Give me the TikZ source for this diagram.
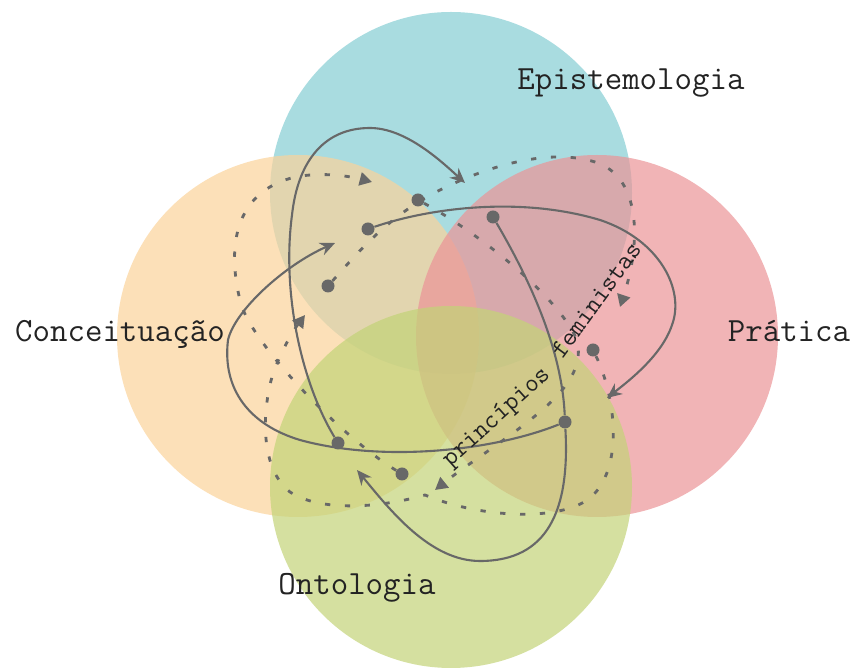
\documentclass[tikz,border=0pt]{standalone}
\usepackage{fontspec}
\usetikzlibrary{arrows.meta}
\definecolor{epi}{RGB}{132,205,211}
\definecolor{con}{RGB}{251,211,154}
\definecolor{pra}{RGB}{235,148,151}
\definecolor{ont}{RGB}{195,211,119}
\definecolor{ink}{RGB}{104,104,104}
\definecolor{txt}{RGB}{35,35,35}
\pgfdeclarelayer{back}
\pgfsetlayers{back,main}
\tikzset{
  area/.style={fill opacity=.7},
  dt/.style={circle,fill=ink,minimum size=7.4pt,inner sep=0pt},
  sl/.style={draw=ink,line width=1.2pt},
  slar/.style={sl,-{Stealth[length=8.5pt,width=7.5pt]}},
  dl/.style={draw=ink,line width=1.6pt,dash pattern=on 3pt off 8.3pt},
  dlar/.style={dl,-{Triangle[length=7pt,width=7.5pt]}},
  lb/.style={font=\fontsize{19.3}{22}\selectfont\ttfamily,text=txt,anchor=base},
  mid/.style={font=\fontsize{15}{18}\selectfont\ttfamily,text=txt,inner sep=0pt},
}

\begin{document}
\begin{tikzpicture}[x=0.02cm,y=-0.02cm]
\useasboundingbox (0,0) rectangle (853,668);
% the four fields
\begin{pgfonlayer}{back}
\fill[epi,area] (451,193) circle[radius=181];
\fill[con,area] (298,336) circle[radius=181];
\fill[pra,area] (597,336) circle[radius=181];
\fill[ont,area] (451,487) circle[radius=181];
\end{pgfonlayer}
\node[lb] (epis) at (631,90) {Epistemologia};
\node[lb] (conc) at (120,342) {Conceituação};
\node[lb] (prat) at (789,342) {Prática};
\node[lb] (onto) at (357,595) {Ontologia};
% dots of the solid loops (s) and of the dashed loops (d)
\node[dt] (s1) at (338,443) {}; \node[dt] (s2) at (368,229) {};
\node[dt] (s3) at (493,217) {}; \node[dt] (s4) at (565,422) {};
\node[dt] (d1) at (418,200) {}; \node[dt] (d2) at (593,350) {};
\node[dt] (d3) at (402,474) {}; \node[dt] (d4) at (328,286) {};
% where the arrow tips stop
\coordinate (a1) at (465,183); \coordinate (a2) at (607,398);
\coordinate (a3) at (357,470); \coordinate (a4) at (335,243);
\coordinate (t1) at (372,182); \coordinate (t2) at (620,307);
\coordinate (t3) at (435,490); \coordinate (t4) at (305,315);
\begin{pgfonlayer}{back}
% solid loops
\draw[slar] (s1) .. controls (300,380) and (282,290) .. (292,215)
  .. controls (298,160) and (325,128) .. (370,128)
  .. controls (405,128) and (440,160) .. (a1);
\draw[sl] (s3) .. controls (530,280) and (562,350) .. (s4);
\draw[slar] (s4) .. controls (570,510) and (548,561) .. (480,561)
  .. controls (430,561) and (390,510) .. (a3);
\draw[slar] (s4) .. controls (490,452) and (380,462) .. (300,440)
  .. controls (250,425) and (222,390) .. (228,340)
  .. controls (235,310) and (285,265) .. (a4);
\draw[slar] (s2) .. controls (430,208) and (520,196) .. (600,220)
  .. controls (660,240) and (685,290) .. (672,325)
  .. controls (662,355) and (630,380) .. (a2);
% dashed loops
\draw[dlar] (d3) .. controls (340,436) and (248,340) .. (240,300)
  .. controls (230,260) and (228,200) .. (285,180)
  .. controls (310,171) and (345,175) .. (t1);
\draw[dlar] (d4) .. controls (360,250) and (390,215) .. (440,190)
  .. controls (490,165) and (550,148) .. (595,162)
  .. controls (640,176) and (642,240) .. (t2);
\draw[dlar] (d2) .. controls (615,395) and (625,468) .. (590,498)
  .. controls (560,522) and (480,518) .. (425,495)
  .. controls (380,508) and (320,512) .. (290,492)
  .. controls (262,470) and (262,420) .. (270,385)
  .. controls (274,365) and (290,335) .. (t4);
\draw[dlar] (d1) .. controls (470,228) and (545,285) .. (572,330)
  .. controls (585,352) and (578,375) .. (553,400)
  .. controls (525,428) and (470,462) .. (t3);
\end{pgfonlayer}
% the label across the middle, bending upwards
\node[mid,rotate=42] (prin) at (497,418) {princípios};
\node[mid,rotate=54] (femi) at (596,300) {feministas};
\end{tikzpicture}
\end{document}
